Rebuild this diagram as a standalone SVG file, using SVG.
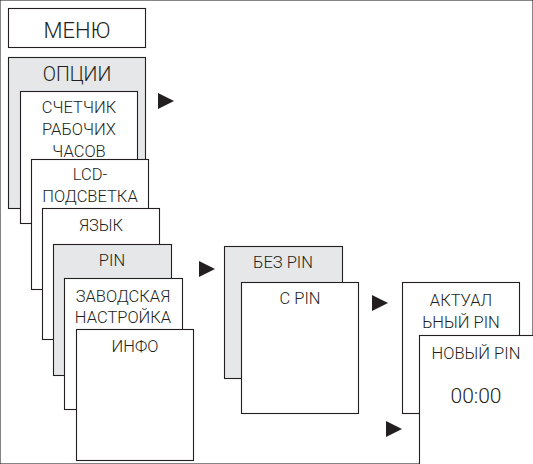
<svg xmlns="http://www.w3.org/2000/svg" xmlns:xlink="http://www.w3.org/1999/xlink" width="533" height="464" viewBox="0 0 533 464">
<style>
rect{stroke:#231f20;stroke-width:1.1;fill:#fff}
rect.g{fill:#e6e7e8}
text{font-family:Roboto,"Liberation Sans",sans-serif;font-weight:300;fill:#231f20;text-anchor:middle;font-size:16.5px}
.arr{fill:#231f20}
</style>
<defs>
<path id="tri" d="M0,0 L16,8 L0,16 Z"/>
</defs>
<rect width="533" height="464" fill="#fff" stroke="none"/>
<g id="menu"><rect x="8.5" y="8.5" width="137" height="39"/><text x="77" y="38" style="font-size:22px">МЕНЮ</text></g>
<g id="options"><rect class="g" x="8.5" y="57.5" width="137" height="151"/><text x="77" y="81" style="font-size:19.5px">ОПЦИИ</text></g>
<g id="counter"><rect x="20.5" y="91.5" width="117" height="132"/><text x="79" y="113">СЧЕТЧИК</text><text x="79" y="135">РАБОЧИХ</text><text x="79" y="156.5">ЧАСОВ</text></g>
<g id="lcd"><rect x="31.5" y="159.5" width="117" height="130"/><text x="90" y="180">LCD-</text><text x="90" y="202">ПОДСВЕТКА</text></g>
<g id="lang"><rect x="42.5" y="208.5" width="117" height="131"/><text x="101" y="231">ЯЗЫК</text></g>
<g id="pin"><rect class="g" x="53.5" y="244.5" width="118" height="131"/><text x="112" y="266">PIN</text></g>
<g id="factory"><rect x="64.5" y="278.5" width="118" height="131"/><text x="123" y="302">ЗАВОДСКАЯ</text><text x="123" y="323">НАСТРОЙКА</text></g>
<g id="info"><rect x="76.5" y="329.5" width="117" height="131"/><text x="135" y="352">ИНФО</text></g>
<g id="nopin"><rect class="g" x="224.5" y="246.5" width="118" height="132"/><text x="283" y="268">БЕЗ PIN</text></g>
<g id="withpin"><rect x="241.5" y="282.5" width="117" height="131"/><text x="300" y="304">С PIN</text></g>
<g id="actual"><rect x="402.5" y="282.5" width="117" height="131"/><text x="461" y="306">АКТУАЛ</text><text x="461" y="328">ЬНЫЙ PIN</text></g>
<g id="newpin"><rect x="419.5" y="335.5" width="130" height="140"/><text x="476" y="359">НОВЫЙ PIN</text><text x="476" y="403" style="font-size:21px">00:00</text></g>
<g id="connectors" class="arr">
<use xlink:href="#tri" x="158" y="93"/>
<use xlink:href="#tri" x="199" y="261"/>
<use xlink:href="#tri" x="372" y="295"/>
<use xlink:href="#tri" x="386" y="421"/>
</g>
</svg>
